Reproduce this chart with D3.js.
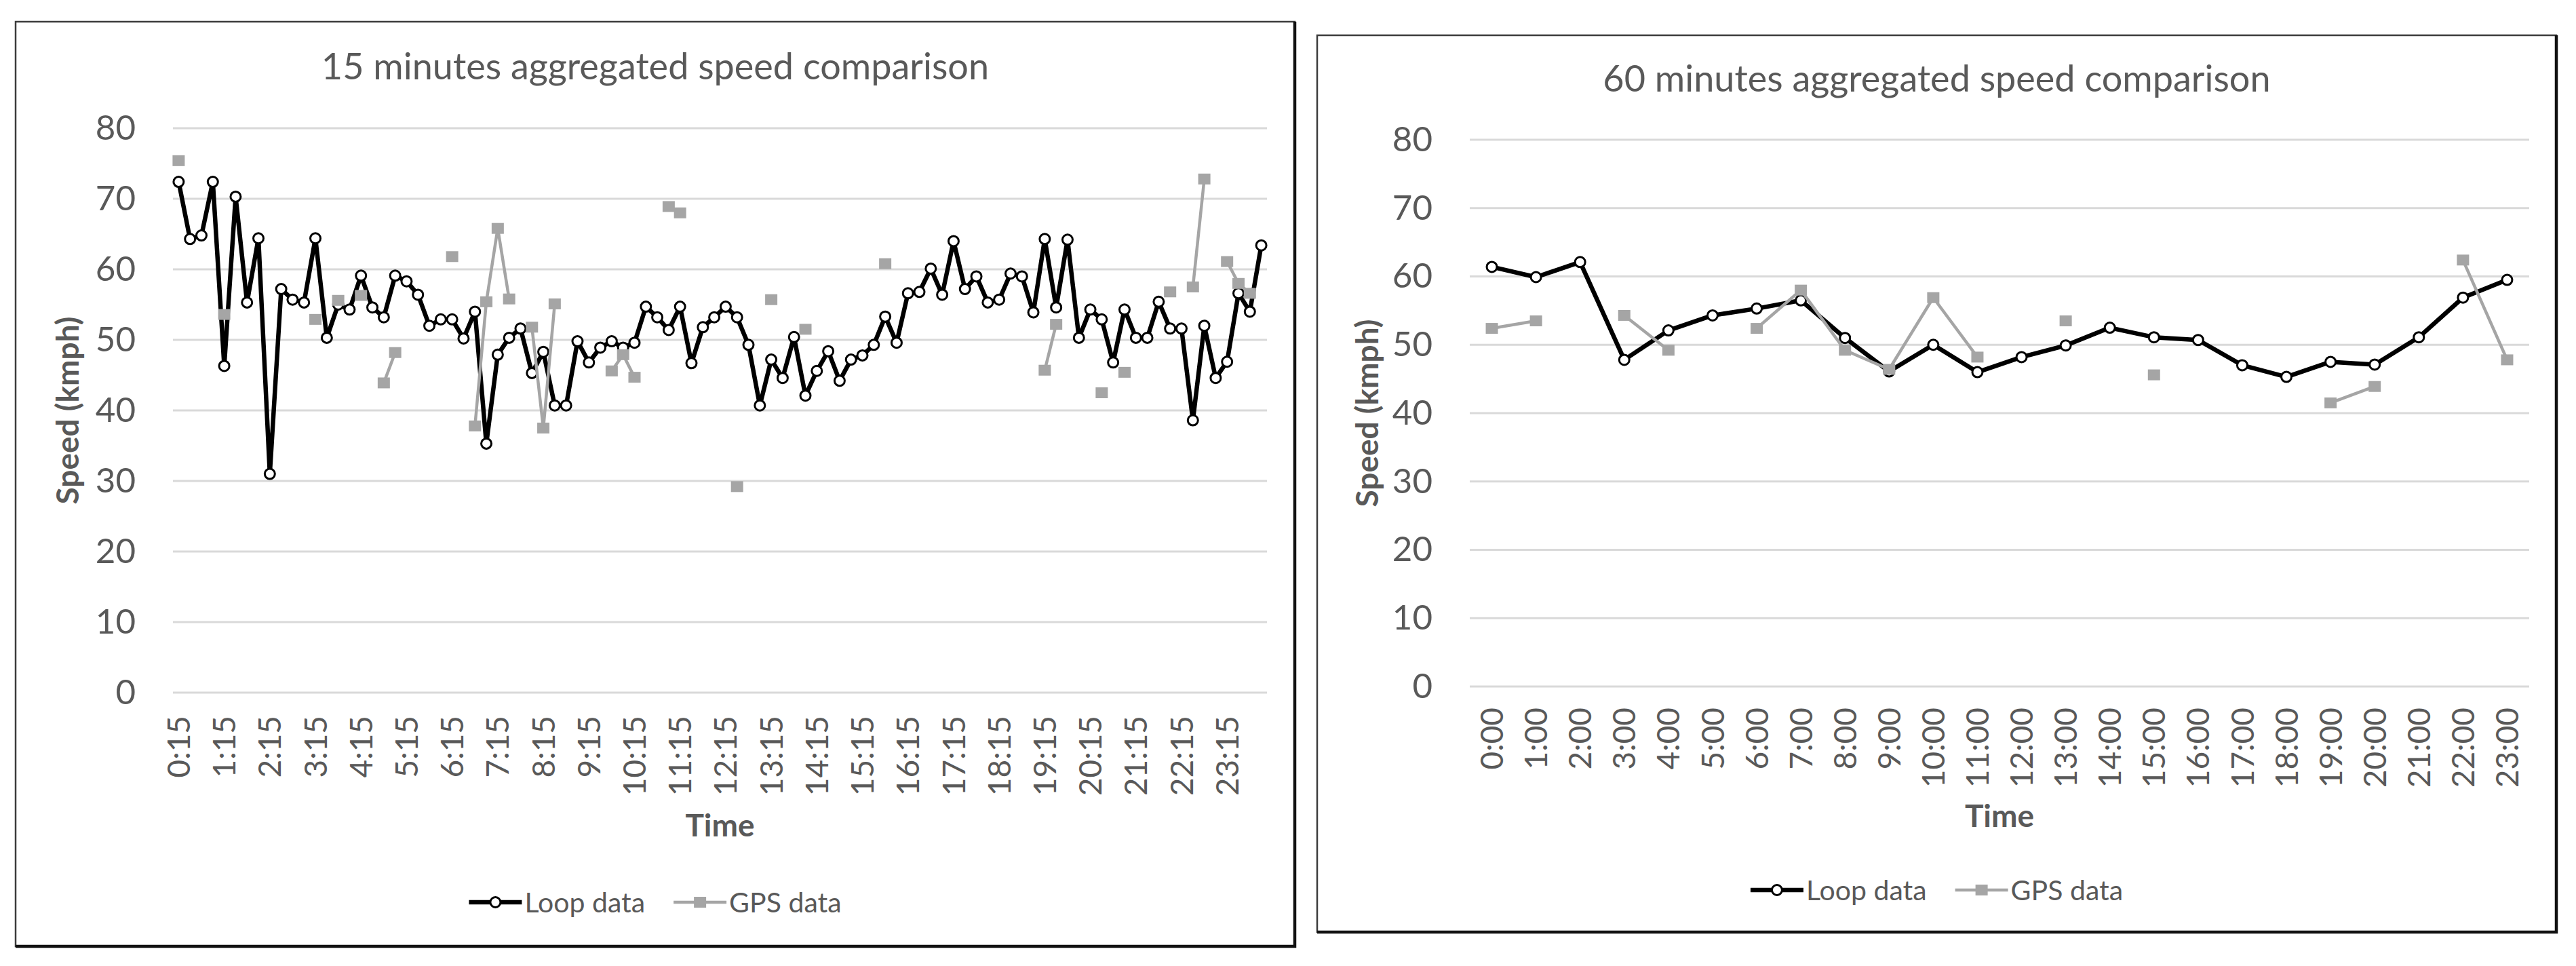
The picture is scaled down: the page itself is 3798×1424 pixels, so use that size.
<!DOCTYPE html>
<html>
<head>
<meta charset="utf-8">
<script src="https://cdn.jsdelivr.net/npm/d3@7"></script>
<style>
  body { margin: 0; background: #fff; }
  text { font-family: Lato, "Open Sans", sans-serif; fill: #595959; }
</style>
</head>
<body>
<svg id="chart" width="3798" height="1424"></svg>
<script>
// 15 minute categories (labels shown every 4th)
const quarterTimes = [
  "0:15","0:30","0:45","1:00","1:15","1:30","1:45","2:00","2:15","2:30","2:45","3:00",
  "3:15","3:30","3:45","4:00","4:15","4:30","4:45","5:00","5:15","5:30","5:45","6:00",
  "6:15","6:30","6:45","7:00","7:15","7:30","7:45","8:00","8:15","8:30","8:45","9:00",
  "9:15","9:30","9:45","10:00","10:15","10:30","10:45","11:00","11:15","11:30","11:45","12:00",
  "12:15","12:30","12:45","13:00","13:15","13:30","13:45","14:00","14:15","14:30","14:45","15:00",
  "15:15","15:30","15:45","16:00","16:15","16:30","16:45","17:00","17:15","17:30","17:45","18:00",
  "18:15","18:30","18:45","19:00","19:15","19:30","19:45","20:00","20:15","20:30","20:45","21:00",
  "21:15","21:30","21:45","22:00","22:15","22:30","22:45","23:00","23:15","23:30","23:45","0:00"
];

const loop15 = [
  72.4, 64.3, 64.8, 72.4, 46.3, 70.3, 55.3, 64.4, 31.0, 57.2, 55.7, 55.3,
  64.4, 50.3, 55.0, 54.3, 59.1, 54.6, 53.2, 59.1, 58.3, 56.4, 52.0, 52.9,
  52.9, 50.2, 54.0, 35.3, 47.9, 50.3, 51.6, 45.3, 48.3, 40.7, 40.7, 49.8,
  46.8, 48.9, 49.8, 48.9, 49.6, 54.7, 53.2, 51.4, 54.7, 46.7, 51.8, 53.2,
  54.7, 53.2, 49.3, 40.7, 47.2, 44.6, 50.4, 42.1, 45.6, 48.4, 44.2, 47.2,
  47.8, 49.3, 53.3, 49.6, 56.6, 56.8, 60.1, 56.4, 64.0, 57.2, 59.0, 55.3,
  55.7, 59.4, 59.0, 53.9, 64.3, 54.6, 64.2, 50.3, 54.3, 52.9, 46.8, 54.3,
  50.3, 50.3, 55.4, 51.6, 51.6, 38.6, 52.0, 44.6, 46.9, 56.6, 54.0, 63.4
];

const gps15 = [
  75.4, null, null, null, 53.6, null, null, null, null, null, null, null,
  52.9, null, 55.6, null, 56.3, null, 43.9, 48.2, null, null, null, null,
  61.8, null, 37.8, 55.4, 65.8, 55.8, null, 51.8, 37.5, 55.1, null, null,
  null, null, 45.6, 47.9, 44.7, null, null, 68.9, 68.0, null, null, null,
  null, 29.2, null, null, 55.7, null, null, 51.5, null, null, null, null,
  null, null, 60.8, null, null, null, null, null, null, null, null, null,
  null, null, null, null, 45.7, 52.2, null, null, null, 42.5, null, 45.4,
  null, null, null, 56.8, null, 57.5, 72.8, null, 61.1, 58.0, 56.6, null
];

const hourTimes = [
  "0:00","1:00","2:00","3:00","4:00","5:00","6:00","7:00","8:00","9:00","10:00","11:00",
  "12:00","13:00","14:00","15:00","16:00","17:00","18:00","19:00","20:00","21:00","22:00","23:00"
];

const loop60 = [
  61.4, 59.9, 62.1, 47.8, 52.1, 54.3, 55.3, 56.5, 51.0, 46.1, 50.0, 46.0,
  48.2, 49.9, 52.5, 51.1, 50.7, 47.0, 45.3, 47.5, 47.1, 51.1, 56.9, 59.5
];

const gps60 = [
  52.4, 53.5, null, 54.3, 49.2, null, 52.4, 58.0, 49.2, 46.4, 56.9, 48.2,
  null, 53.5, null, 45.6, null, null, null, 41.5, 43.9, null, 62.4, 47.8
];

const yTicks = [0, 10, 20, 30, 40, 50, 60, 70, 80];
const seriesNames = ["Loop data", "GPS data"];

const svg = d3.select("#chart");

function drawPanel(opt){
  const g = svg.append("g");

  // frame
  g.append("rect")
    .attr("x", opt.box[0]).attr("y", opt.box[1])
    .attr("width", opt.box[2] - opt.box[0]).attr("height", opt.box[3] - opt.box[1])
    .attr("fill", "#fff").attr("stroke", "#3c3c3c").attr("stroke-width", 2.5);
  g.append("path")
    .attr("d", `M${opt.box[2]},${opt.box[1]}V${opt.box[3]}H${opt.box[0]}`)
    .attr("fill", "none").attr("stroke", "#111").attr("stroke-width", 4.5);

  const x = d3.scaleBand().domain(opt.cats).range([opt.plot[0], opt.plot[1]]);
  const y = d3.scaleLinear().domain([0, 80]).range([opt.plot[3], opt.plot[2]]);
  const cx = d => x(d) + x.bandwidth() / 2;

  // gridlines
  g.append("g").selectAll("line")
    .data(yTicks)
    .join("line")
    .attr("x1", opt.plot[0]).attr("x2", opt.plot[1])
    .attr("y1", d => y(d)).attr("y2", d => y(d))
    .attr("stroke", "#d9d9d9").attr("stroke-width", 3);

  // y axis labels
  const yAxis = g.append("g")
    .attr("transform", `translate(${opt.yLabelX},0)`)
    .call(d3.axisLeft(y).tickValues(yTicks).tickSize(0).tickPadding(0));
  yAxis.select(".domain").remove();
  yAxis.selectAll("text")
    .attr("font-family", "Lato").attr("font-size", 51).attr("fill", "#595959");

  // x axis labels
  const shown = opt.cats.filter((d, i) => i % opt.every === 0);
  const xAxis = g.append("g")
    .attr("transform", `translate(0,${opt.plot[3]})`)
    .call(d3.axisBottom(x).tickValues(shown).tickSize(0));
  xAxis.select(".domain").remove();
  xAxis.selectAll("text")
    .attr("font-family", "Lato").attr("font-size", 46).attr("fill", "#595959")
    .attr("transform", "rotate(-90)")
    .attr("text-anchor", "end")
    .attr("x", -opt.xGap).attr("y", 0).attr("dy", "0.36em");

  // titles
  const midX = (opt.box[0] + opt.box[2]) / 2;
  g.append("text").text(opt.title)
    .attr("x", midX).attr("y", opt.titleY).attr("dy", "0.36em")
    .attr("text-anchor", "middle").attr("font-size", 54);

  g.append("text").text("Time")
    .attr("x", (opt.plot[0] + opt.plot[1]) / 2).attr("y", opt.timeY).attr("dy", "0.36em")
    .attr("text-anchor", "middle").attr("font-size", 46).attr("font-weight", "bold");

  g.append("text").text("Speed (kmph)")
    .attr("transform", `translate(${opt.yTitleX},${(opt.plot[2] + opt.plot[3]) / 2}) rotate(-90)`)
    .attr("dy", "0.36em")
    .attr("text-anchor", "middle").attr("font-size", 46).attr("font-weight", "bold");

  // series
  const loopPts = opt.loop.map((v, i) => ({ c: opt.cats[i], v }));
  const gpsPts = opt.gps.map((v, i) => ({ c: opt.cats[i], v }));
  const line = d3.line().defined(d => d.v != null).x(d => cx(d.c)).y(d => y(d.v));

  g.append("path").datum(loopPts)
    .attr("d", line).attr("fill", "none")
    .attr("stroke", "#000").attr("stroke-width", 6.5).attr("stroke-linejoin", "round");
  g.append("g").selectAll("circle")
    .data(loopPts)
    .join("circle")
    .attr("cx", d => cx(d.c)).attr("cy", d => y(d.v)).attr("r", 7.5)
    .attr("fill", "#fff").attr("stroke", "#000").attr("stroke-width", 3);

  g.append("path").datum(gpsPts)
    .attr("d", line).attr("fill", "none")
    .attr("stroke", "#a5a5a5").attr("stroke-width", 4.5).attr("stroke-linejoin", "round");
  g.append("g").selectAll("rect")
    .data(gpsPts.filter(d => d.v != null))
    .join("rect")
    .attr("x", d => cx(d.c) - 9).attr("y", d => y(d.v) - 8)
    .attr("width", 18).attr("height", 16)
    .attr("fill", "#a5a5a5");

  // legend
  const leg = g.append("g");
  const items = leg.selectAll("g")
    .data(seriesNames)
    .join("g");
  items.append("text").text(d => d)
    .attr("x", 82).attr("dy", "0.36em").attr("font-size", 41);
  let off = 0;
  items.each(function(d, i){
    const w = d3.select(this).select("text").node().getComputedTextLength();
    d3.select(this).attr("transform", `translate(${off},0)`);
    off += 82 + w + 42;
  });
  const total = off - 42;
  leg.attr("transform", `translate(${midX - total / 2},${opt.legendY})`);

  items.filter((d, i) => i === 0).call(s => {
    s.append("line").attr("x1", 0).attr("x2", 78).attr("stroke", "#000").attr("stroke-width", 6.5);
    s.append("circle").attr("cx", 39).attr("r", 7.5).attr("fill", "#fff").attr("stroke", "#000").attr("stroke-width", 3);
  });
  items.filter((d, i) => i === 1).call(s => {
    s.append("line").attr("x1", 0).attr("x2", 78).attr("stroke", "#a5a5a5").attr("stroke-width", 4.5);
    s.append("rect").attr("x", 30).attr("y", -8).attr("width", 18).attr("height", 16).attr("fill", "#a5a5a5");
  });
}

drawPanel({
  title: "15 minutes aggregated speed comparison",
  cats: quarterTimes, loop: loop15, gps: gps15, every: 4,
  box: [23, 32, 1909, 1395],
  plot: [255, 1868, 189, 1021],
  titleY: 98, yLabelX: 200, yTitleX: 99, xGap: 34, timeY: 1216, legendY: 1330
});

drawPanel({
  title: "60 minutes aggregated speed comparison",
  cats: hourTimes, loop: loop60, gps: gps60, every: 1,
  box: [1942, 52, 3769, 1374],
  plot: [2167, 3729, 206, 1012],
  titleY: 116, yLabelX: 2112, yTitleX: 2015, xGap: 31, timeY: 1202, legendY: 1312
});
</script>
</body>
</html>
